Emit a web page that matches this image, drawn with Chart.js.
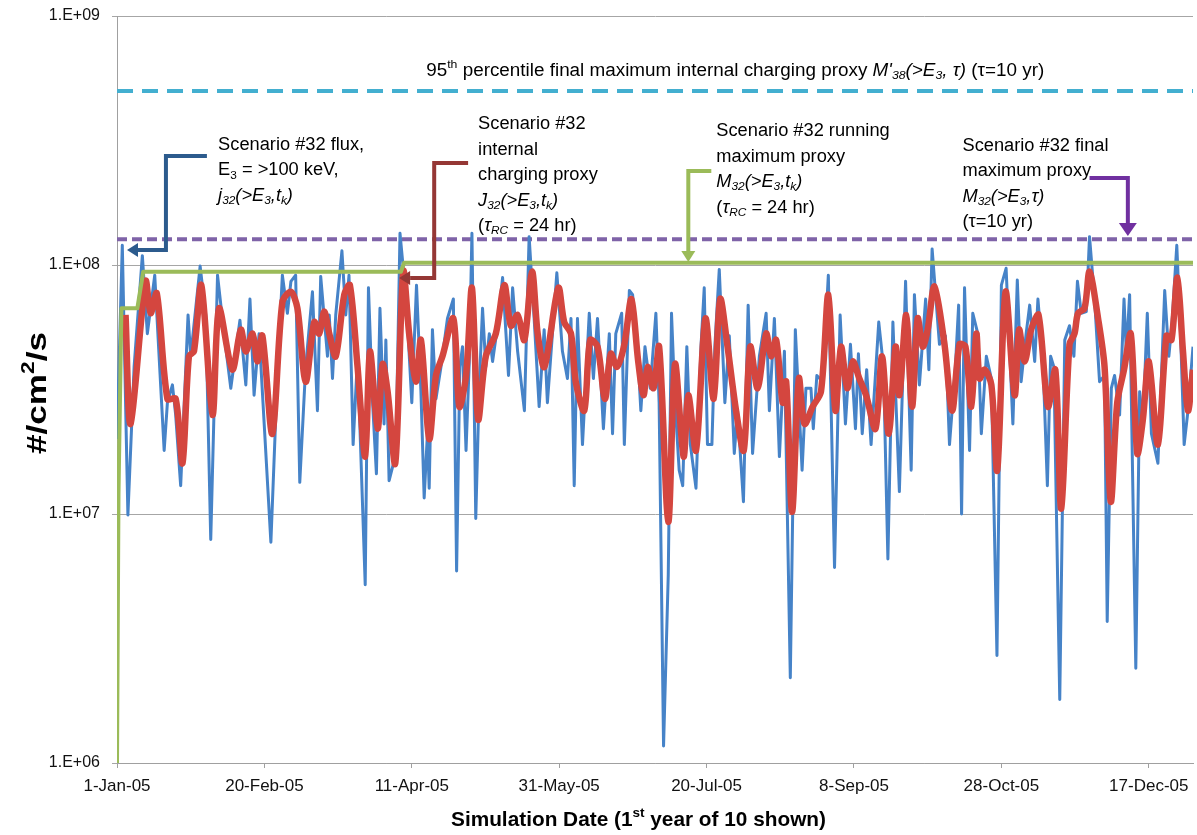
<!DOCTYPE html>
<html><head><meta charset="utf-8">
<script src="https://cdn.jsdelivr.net/npm/chart.js@4.4.0/dist/chart.umd.min.js"></script>
<style>html,body{margin:0;padding:0;background:#fff;}canvas{display:block;}</style>
</head><body>
<canvas id="c" width="1197" height="835"></canvas>
<script>
// ---------- data ----------
const xTickDays = [0, 50, 100, 150, 200, 250, 300, 350];
const xTickLabels = ['1-Jan-05','20-Feb-05','11-Apr-05','31-May-05','20-Jul-05','8-Sep-05','28-Oct-05','17-Dec-05'];
const yTickValues = [1e6, 1e7, 1e8, 1e9];
const yTickLabels = ['1.E+06','1.E+07','1.E+08','1.E+09'];

// Scenario #32 flux j32(>E3,tk)  (day of year, #/cm2/s)
const fluxDays = [0,1.8,3.7,5.8,8.6,10.3,12.8,16.0,17.1,18.8,19.9,21.6,24.1,25.0,28.2,30.1,31.8,34.1,36.3,38.6,41.7,43.7,45.1,46.5,48.2,52.2,54.4,56.1,57.8,59.0,60.6,62.0,64.0,66.3,68.0,69.1,71.4,72.0,73.1,74.2,76.3,77.6,78.7,80.1,81.6,84.2,85.3,86.7,88.0,89.2,90.6,91.2,92.3,93.8,94.6,96.0,97.4,98.6,100.0,101.6,103.1,104.2,105.3,105.9,107.0,108.2,109.9,112.1,114.1,115.2,116.3,117.2,118.4,119.5,120.4,121.7,122.9,124.0,125.1,126.3,127.4,129.1,130.8,132.8,134.2,135.9,138.2,139.8,141.5,143.2,144.9,146.0,149.2,151.1,152.8,154.0,155.1,156.2,157.9,160.2,161.6,163.0,165.0,167.0,168.1,169.2,171.2,172.1,173.8,174.9,176.6,177.7,179.1,180.9,182.8,183.9,185.4,187.0,188.1,189.3,190.7,191.9,193.3,194.5,196.4,198.1,199.2,200.3,201.8,202.8,204.3,206.2,207.7,209.4,210.5,212.5,214.1,215.6,217.9,220.2,221.3,223.0,224.7,226.4,228.4,230.1,232.4,233.7,235.4,236.2,237.4,239.4,241.3,243.4,245.3,247.1,248.8,250.5,251.5,252.8,254.3,255.8,258.4,260.0,261.5,263.2,265.4,267.5,269.4,270.5,272.2,274.3,275.4,276.5,279.0,281.0,282.4,284.4,285.5,286.5,287.5,289.2,290.3,292.0,293.2,294.9,296.6,298.5,300.0,301.6,303.9,305.4,306.7,308.4,309.6,311.3,312.4,314.1,315.6,316.7,317.8,319.8,321.5,323.1,324.6,325.8,327.1,328.8,329.9,331.6,333.3,335.0,335.9,337.3,338.4,340.1,341.6,342.4,343.5,345.6,346.9,348.0,349.5,350.9,353.1,354.3,355.4,356.8,357.9,359.5,360.8,362.0,363.3,365.0];
const fluxValues = [2.0e7,1.2e8,9.9e6,3.9e7,1.09e8,5.3e7,9.1e7,1.8e7,2.8e7,3.3e7,2.5e7,1.3e7,6.3e7,4.3e7,9.9e7,6.3e7,7.9e6,9.1e7,5.3e7,3.2e7,6.0e7,3.3e7,7.3e7,3.0e7,5.3e7,7.7e6,3.6e7,9.1e7,6.4e7,8.6e7,9.1e7,1.34e7,3.9e7,7.8e7,2.6e7,9.0e7,4.3e7,6.3e7,3.5e7,6.3e7,1.14e8,6.3e7,9.1e7,1.9e7,4.3e7,5.2e6,8.1e7,2.8e7,1.45e7,6.7e7,2.3e7,5.0e7,1.36e7,1.6e7,1.75e7,1.34e8,8.9e7,5.7e7,2.8e7,8.3e7,3.1e7,1.16e7,2.1e7,1.27e7,5.5e7,2.9e7,3.9e7,6.1e7,7.3e7,5.9e6,3.9e7,4.7e7,1.8e7,4.1e7,1.34e8,9.6e6,3.3e7,6.7e7,3.9e7,5.3e7,4.1e7,5.7e7,8.9e7,3.6e7,8.1e7,4.5e7,2.6e7,1.3e8,6.1e7,2.7e7,5.5e7,2.8e7,9.3e7,4.5e7,3.5e7,6.1e7,1.3e7,6.1e7,1.9e7,6.4e7,3.5e7,6.1e7,2.2e7,5.3e7,2.1e7,5.3e7,6.4e7,1.9e7,7.9e7,7.6e7,4.5e7,2.6e7,4.7e7,3.2e7,6.4e7,2.8e7,1.17e6,5.7e6,6.4e7,2.8e7,1.5e7,1.3e7,4.7e7,1.9e7,1.27e7,4.7e7,8.1e7,1.9e7,1.9e7,4.7e7,9.6e7,2.8e7,5.2e7,1.75e7,2.6e7,1.12e7,6.9e7,1.75e7,4.3e7,6.4e7,2.6e7,6.1e7,1.7e7,4.5e7,2.2e6,5.5e7,1.5e7,3.2e7,3.2e7,2.2e7,3.6e7,3.4e7,9.1e7,6.1e6,6.3e7,2.3e7,4.8e7,2.2e7,4.4e7,2.1e7,3.8e7,1.9e7,5.9e7,3.9e7,6.6e6,5.9e7,1.23e7,8.6e7,1.5e7,7.6e7,3.3e7,7.3e7,3.8e7,1.16e8,4.8e7,5.2e7,1.9e7,3.9e7,6.9e7,1.0e7,8.1e7,1.8e7,6.4e7,5.3e7,2.1e7,4.3e7,3.5e7,2.7e6,8.3e7,9.7e7,2.3e7,8.7e7,3.4e7,5.3e7,6.9e7,4.1e7,7.3e7,4.1e7,1.3e7,4.3e7,3.9e7,1.8e6,5.0e7,5.7e7,4.3e7,8.6e7,6.4e7,6.5e7,1.3e8,7.3e7,3.4e7,3.6e7,3.7e6,3.2e7,3.6e7,2.5e7,7.3e7,4.4e7,7.6e7,2.4e6,3.1e7,2.3e7,6.4e7,2.1e7,1.6e7,3.6e7,7.9e7,4.3e7,5.9e7,1.2e8,5.2e7,1.9e7,2.6e7,4.7e7];

// Scenario #32 internal charging proxy J32(>E3,tk)
const proxyDays = [2.9,4.6,9.7,11.4,13.5,17.1,19.9,22.2,24.4,26.1,28.6,32.4,34.6,39.1,42.0,43.7,46.0,47.6,49.3,52.7,56.1,59.0,61.2,64.0,66.9,68.6,70.3,72.0,74.2,77.1,79.0,81.6,84.2,85.8,88.4,90.1,91.8,94.4,97.1,99.1,101.4,103.1,105.9,108.2,110.4,114.1,116.1,118.4,120.4,122.5,125.1,128.5,131.4,133.6,135.9,138.2,140.8,142.7,145.0,149.7,151.7,154.0,155.6,158.5,160.5,163.0,165.5,167.5,169.6,172.1,174.5,176.8,178.6,180.0,182.0,183.9,187.0,189.3,192.2,193.8,196.4,199.6,202.4,204.6,207.1,210.0,212.6,214.8,217.3,220.2,221.9,223.6,225.8,227.0,229.0,231.3,233.2,236.0,238.8,241.3,243.7,245.6,247.7,249.6,251.8,254.1,257.3,259.5,261.8,264.1,265.4,267.7,269.7,271.6,273.3,275.0,277.3,280.7,283.3,285.8,287.8,289.8,291.5,292.6,294.3,296.6,298.6,301.4,304.5,306.0,307.9,310.1,312.6,315.8,318.3,320.3,323.1,324.8,326.0,328.2,329.9,332.8,335.0,337.1,339.3,341.6,343.9,346.1,348.0,350.0,353.1,356.0,357.7,359.7,361.6,363.3,365.0];
const proxyValues = [6.3e7,2.3e7,8.6e7,6.4e7,7.7e7,2.9e7,2.9e7,1.6e7,4.3e7,4.5e7,8.3e7,2.5e7,6.7e7,3.8e7,5.5e7,4.5e7,5.3e7,4.1e7,5.2e7,2.1e7,7.1e7,7.8e7,6.7e7,3.4e7,5.9e7,5.3e7,6.5e7,5.3e7,4.3e7,7.6e7,8.3e7,3.9e7,1.7e7,4.5e7,2.2e7,4.0e7,3.1e7,1.6e7,9.4e7,5.3e7,3.4e7,5.0e7,2.0e7,3.6e7,4.3e7,6.1e7,2.7e7,3.6e7,8.1e7,2.4e7,4.3e7,5.3e7,8.3e7,5.7e7,6.3e7,5.0e7,9.4e7,5.3e7,3.9e7,8.1e7,5.9e7,5.3e7,3.4e7,2.6e7,5.0e7,4.7e7,2.9e7,4.4e7,3.9e7,4.8e7,7.3e7,4.1e7,3.0e7,3.9e7,3.2e7,4.7e7,9.3e6,4.0e7,1.7e7,3.0e7,1.8e7,6.1e7,2.9e7,7.3e7,4.7e7,2.6e7,1.8e7,4.7e7,3.2e7,5.3e7,4.3e7,5.0e7,2.8e7,3.4e7,1.02e7,3.5e7,2.3e7,2.7e7,3.1e7,7.6e7,2.6e7,4.7e7,3.2e7,4.1e7,3.5e7,3.0e7,2.2e7,4.3e7,2.1e7,4.7e7,3.0e7,6.3e7,2.7e7,6.1e7,4.7e7,5.5e7,8.2e7,4.8e7,2.6e7,4.8e7,4.7e7,2.7e7,5.3e7,3.5e7,3.8e7,3.3e7,1.5e7,7.8e7,3.0e7,5.5e7,4.1e7,5.5e7,6.3e7,2.7e7,3.8e7,1.05e7,4.8e7,5.3e7,6.4e7,6.7e7,9.4e7,6.1e7,3.9e7,1.12e7,2.8e7,3.8e7,5.3e7,1.75e7,2.4e7,4.1e7,1.9e7,5.2e7,5.0e7,8.9e7,4.5e7,2.6e7,3.8e7];

// Scenario #32 running maximum proxy M32(>E3,tk)
const runMaxDays = [0, 0.5, 1.5, 6.9, 8.9, 96.3, 97.4, 365];
const runMaxValues = [1e6, 1.2e7, 6.7e7, 6.7e7, 9.4e7, 9.4e7, 1.02e8, 1.02e8];
// Scenario #32 final maximum proxy M32(>E3,tau)
const finalMaxDays = [0, 365];
const finalMaxValues = [1.27e8, 1.27e8];
// 95th percentile final maximum proxy M'38(>E3,tau)
const p95Days = [0, 365];
const p95Values = [5.0e8, 5.0e8];

// ---------- annotations (anchor = [day, log10 value]) ----------
const noteTexts = [
  {at:[104.9, 8.779], fit:618, lines:[[['95'],['th','p'],[' percentile final maximum internal charging proxy '],["M'",'i'],['38','ib'],['(>E','i'],['3','ib'],[', τ)','i'],[' (τ=10 yr)']]]},
  {at:[34.3, 8.482], lines:[[['Scenario #32 flux,']],[['E'],['3','b'],[' = >100 keV,']],[['j','i'],['32','ib'],['(>E','i'],['3','ib'],[',t','i'],['k','ib'],[')','i']]]},
  {at:[122.5, 8.566], lines:[[['Scenario #32']],[['internal']],[['charging proxy']],[['J','i'],['32','ib'],['(>E','i'],['3','ib'],[',t','i'],['k','ib'],[')','i']],[['('],['τ','i'],['RC','ib'],[' = 24 hr)']]]},
  {at:[203.3, 8.538], lines:[[['Scenario #32 running']],[['maximum proxy']],[['M','i'],['32','ib'],['(>E','i'],['3','ib'],[',t','i'],['k','ib'],[')','i']],[['('],['τ','i'],['RC','ib'],[' = 24 hr)']]]},
  {at:[286.8, 8.478], lines:[[['Scenario #32 final']],[['maximum proxy']],[['M','i'],['32','ib'],['(>E','i'],['3','ib'],[',τ)','i']],[['(τ=10 yr)']]]}
];
const noteArrows = [
  {color:'#2c5b8d', pts:[[30.5,8.438],[16.6,8.438],[16.6,8.060],[3.4,8.060]], head:[11,7]},
  {color:'#953735', pts:[[119.1,8.410],[107.6,8.410],[107.6,7.948],[95.7,7.948]], head:[11,7]},
  {color:'#9bbb59', pts:[[201.6,8.378],[193.8,8.378],[193.8,8.012]], head:[11,7]},
  {color:'#7030a0', pts:[[329.9,8.349],[342.9,8.349],[342.9,8.116]], head:[13,9]}
];

// ---------- chart ----------
const FONT = "'Liberation Sans Narrow','Liberation Sans',Arial,sans-serif";
const toPts = (xs, ys) => xs.map((x, i) => ({x: x, y: ys[i]}));

function drawRich(ctx, segs, size, weight) {
  let cx = 0;
  for (const s of segs) {
    const t = s[0], f = s[1] || '';
    const it = f.includes('i'), sub = f.includes('b'), sup = f.includes('p');
    const sz = (sub || sup) ? size * 0.65 : size;
    ctx.font = (it ? 'italic ' : '') + (weight || 'normal') + ' ' + sz + 'px ' + FONT;
    const dy = sub ? size * 0.28 : (sup ? -size * 0.33 : 0);
    ctx.fillText(t, cx, dy);
    cx += ctx.measureText(t).width;
  }
  return cx;
}
function richWidth(ctx, segs, size, weight) {
  let w = 0;
  for (const s of segs) {
    const f = s[1] || '';
    const sz = (f.includes('b') || f.includes('p')) ? size * 0.65 : size;
    ctx.font = (f.includes('i') ? 'italic ' : '') + (weight || 'normal') + ' ' + sz + 'px ' + FONT;
    w += ctx.measureText(s[0]).width;
  }
  return w;
}

const annotPlugin = {
  id: 'annot',
  afterDraw(chart) {
    const ctx = chart.ctx, xs = chart.scales.x, ys = chart.scales.y;
    const P = (p) => [xs.getPixelForValue(p[0]), ys.getPixelForValue(Math.pow(10, p[1]))];
    ctx.save();
    ctx.textBaseline = 'middle';
    ctx.fillStyle = '#000';
    const size = 18;
    const k = 146 / richWidth(ctx, [['Scenario #32 flux,']], size);
    for (const n of noteTexts) {
      const [x0, y0] = P(n.at);
      n.lines.forEach((ln, i) => {
        ctx.save();
        ctx.translate(x0, y0 + i * 25.5);
        const kk = n.fit ? n.fit / richWidth(ctx, ln, size) : k;
        ctx.scale(kk, 1);
        drawRich(ctx, ln, size);
        ctx.restore();
      });
    }
    for (const a of noteArrows) {
      const pts = a.pts.map(P);
      const n = pts.length;
      const tip = pts[n - 1], prev = pts[n - 2];
      const dx = tip[0] - prev[0], dy = tip[1] - prev[1];
      const L = Math.hypot(dx, dy), ux = dx / L, uy = dy / L;
      const [hl, hw] = a.head;
      const base = [tip[0] - ux * hl, tip[1] - uy * hl];
      ctx.strokeStyle = a.color; ctx.fillStyle = a.color;
      ctx.lineWidth = 4; ctx.lineJoin = 'miter'; ctx.lineCap = 'butt';
      ctx.beginPath();
      ctx.moveTo(pts[0][0], pts[0][1]);
      for (let i = 1; i < n - 1; i++) ctx.lineTo(pts[i][0], pts[i][1]);
      ctx.lineTo(base[0], base[1]);
      ctx.stroke();
      ctx.beginPath();
      ctx.moveTo(tip[0], tip[1]);
      ctx.lineTo(base[0] - uy * hw, base[1] + ux * hw);
      ctx.lineTo(base[0] + uy * hw, base[1] - ux * hw);
      ctx.closePath();
      ctx.fill();
    }
    // axis titles
    ctx.fillStyle = '#000';
    ctx.textBaseline = 'middle';
    const xt = [['Simulation Date (1'],['st','p'],[' year of 10 shown)']];
    const xw = richWidth(ctx, xt, 21, 'bold');
    ctx.save();
    const kx = 375 / xw;
    ctx.translate(638.5 - 375 / 2, 820);
    ctx.scale(kx, 1);
    drawRich(ctx, xt, 21, 'bold');
    ctx.restore();
    const yt = [['#/cm'],['2','p'],['/s']];
    const yw = richWidth(ctx, yt, 28, 'bold');
    ctx.save();
    ctx.translate(38, 393);
    ctx.rotate(-Math.PI / 2);
    const ky = 122 / yw;
    ctx.translate(-61, 0);
    ctx.scale(ky, 1);
    drawRich(ctx, yt, 28, 'bold');
    ctx.restore();
    ctx.restore();
  }
};

new Chart(document.getElementById('c'), {
  type: 'line',
  data: {
    datasets: [
      {label: 'j32 flux', data: toPts(fluxDays, fluxValues), borderColor: '#4683c8', borderWidth: 3, order: 3},
      {label: 'J32 proxy', data: toPts(proxyDays, proxyValues), borderColor: '#d4463f', borderWidth: 6.5, tension: 0.3, order: 2},
      {label: 'M32 running max', data: toPts(runMaxDays, runMaxValues), borderColor: '#9bbb59', borderWidth: 4, order: 1},
      {label: 'M32 final max', data: toPts(finalMaxDays, finalMaxValues), borderColor: '#7f63a8', borderWidth: 4, borderDash: [10, 5], order: 4},
      {label: "M'38 95th pct", data: toPts(p95Days, p95Values), borderColor: '#43afd0', borderWidth: 4, borderDash: [16, 9], order: 5}
    ]
  },
  options: {
    responsive: false,
    animation: false,
    layout: {padding: {left: 0, top: 16, right: 4, bottom: 0}},
    elements: {point: {radius: 0}, line: {tension: 0, borderJoinStyle: 'round', borderCapStyle: 'butt'}},
    plugins: {legend: {display: false}, tooltip: {enabled: false}},
    scales: {
      x: {
        type: 'linear', min: 0, max: 365,
        afterBuildTicks(s) { s.ticks = xTickDays.map(v => ({value: v})); },
        afterFit(s) { s.height = 72; },
        ticks: {
          callback: (v) => xTickLabels[xTickDays.indexOf(v)],
          font: {family: "'Liberation Sans',Arial,sans-serif", size: 17},
          color: '#111', padding: 8, maxRotation: 0, autoSkip: false
        },
        grid: {display: true, drawOnChartArea: false, drawTicks: true, tickLength: 5, color: '#a0a0a0'},
        border: {display: true, color: '#a0a0a0', width: 1}
      },
      y: {
        type: 'logarithmic', min: 1e6, max: 1e9,
        afterBuildTicks(s) { s.ticks = yTickValues.map(v => ({value: v})); },
        afterFit(s) { s.width = 117; s.paddingTop = 0; s.paddingBottom = 0; },
        ticks: {
          callback: (v) => yTickLabels[yTickValues.indexOf(v)],
          font: {family: "'Liberation Sans',Arial,sans-serif", size: 16},
          color: '#111', padding: 12, autoSkip: false
        },
        grid: {color: '#a6a6a6', lineWidth: 1, tickLength: 5, drawTicks: true},
        border: {display: true, color: '#a0a0a0', width: 1}
      }
    }
  },
  plugins: [annotPlugin]
});
</script>
</body></html>
